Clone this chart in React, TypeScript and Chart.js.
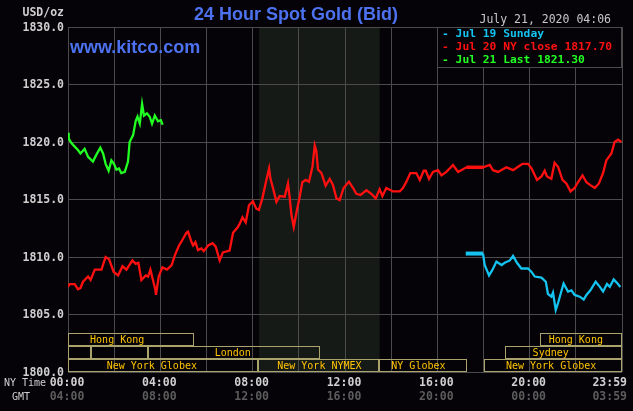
import React, { useEffect, useRef } from "react";
import { Chart, registerables } from "chart.js";

Chart.register(...registerables);

// ---------- data (x = NY time in hours, y = USD/oz) ----------
const greenHours = [0.0, 0.03, 0.15, 0.29, 0.43, 0.54, 0.72, 0.87, 1.08, 1.23, 1.4, 1.52, 1.63, 1.76, 1.88, 1.99, 2.1, 2.21, 2.31, 2.46, 2.6, 2.67, 2.82, 2.93, 3.01, 3.11, 3.21, 3.29, 3.42, 3.54, 3.64, 3.76, 3.9, 4.02, 4.1];
const greenPrices = [1820.8, 1820.3, 1819.9, 1819.6, 1819.3, 1819.0, 1819.4, 1818.7, 1818.3, 1818.9, 1819.5, 1819.0, 1818.1, 1817.5, 1818.4, 1818.1, 1817.6, 1817.7, 1817.3, 1817.4, 1818.3, 1820.0, 1820.6, 1821.8, 1822.2, 1821.6, 1823.3, 1822.3, 1822.5, 1822.2, 1821.6, 1822.3, 1821.8, 1821.9, 1821.5];

const redHours = [
  0.0, 0.07, 0.29, 0.43, 0.54, 0.65, 0.87, 0.98, 1.16, 1.45,
  1.63, 1.78, 1.98, 2.17, 2.36, 2.53, 2.79, 2.93, 3.05, 3.18,
  3.37, 3.47, 3.57, 3.68, 3.79, 3.81, 3.93, 4.09, 4.29, 4.49,
  4.62, 4.81, 4.96, 5.13, 5.2, 5.35, 5.42, 5.52, 5.63, 5.78,
  5.88, 6.07, 6.26, 6.4, 6.57, 6.71, 7.0, 7.15, 7.36, 7.44,
  7.56, 7.7, 7.84, 8.01, 8.16, 8.27, 8.42, 8.56, 8.71, 8.77,
  8.88, 9.03, 9.17, 9.39, 9.53, 9.6, 9.68, 9.78, 9.92, 10.04,
  10.15, 10.3, 10.44, 10.59, 10.69, 10.76, 10.83, 10.98, 11.16, 11.34,
  11.48, 11.63, 11.77, 11.94, 12.17, 12.35, 12.49, 12.67, 12.93, 13.14,
  13.33, 13.5, 13.62, 13.79, 14.08, 14.37, 14.51, 14.66, 14.83, 15.09,
  15.24, 15.41, 15.5, 15.64, 15.81, 16.03, 16.18, 16.39, 16.68, 16.9,
  17.26, 17.98, 18.27, 18.41, 18.63, 18.99, 19.28, 19.5, 19.69, 19.93,
  20.08, 20.32, 20.51, 20.65, 20.75, 20.94, 21.08, 21.23, 21.42, 21.59,
  21.77, 21.95, 22.09, 22.29, 22.46, 22.63, 22.82, 23.0, 23.18, 23.32,
  23.54, 23.68, 23.83, 23.98,
];
const redPrices = [
  1807.4, 1807.65, 1807.65, 1807.2, 1807.3, 1807.85, 1808.3, 1808.0, 1808.9, 1808.9,
  1810.0, 1809.8, 1808.7, 1808.4, 1809.2, 1808.9, 1809.7, 1809.4, 1809.5, 1808.0,
  1808.4, 1808.3, 1808.9, 1808.0, 1807.1, 1806.7, 1808.3, 1809.1, 1808.9, 1809.3,
  1810.1, 1811.0, 1811.5, 1812.1, 1812.2, 1811.3, 1811.0, 1811.3, 1810.6, 1810.75,
  1810.5, 1811.0, 1811.2, 1810.9, 1809.7, 1810.4, 1810.55, 1812.1, 1812.6, 1812.9,
  1813.45, 1813.0, 1814.5, 1814.85, 1814.2, 1814.1, 1815.1, 1816.4, 1817.7, 1816.8,
  1816.0, 1814.8, 1815.3, 1815.25, 1816.4, 1815.25, 1813.65, 1812.6, 1814.1, 1815.25,
  1816.5, 1816.7, 1816.55, 1817.85, 1819.7, 1819.2, 1817.6, 1817.3, 1816.2, 1816.8,
  1816.25, 1815.1, 1814.95, 1816.0, 1816.55, 1816.0, 1815.5, 1815.4, 1815.8, 1815.5,
  1815.1, 1815.9, 1815.3, 1816.0, 1815.7, 1815.7, 1816.0, 1816.55, 1817.3, 1817.3,
  1816.7, 1817.5, 1817.5, 1816.8, 1817.4, 1817.55, 1817.1, 1817.4, 1818.0, 1817.4,
  1817.8, 1817.8, 1818.0, 1817.55, 1817.4, 1817.8, 1817.55, 1817.85, 1818.1, 1818.1,
  1817.7, 1816.7, 1817.0, 1817.5, 1817.0, 1816.8, 1818.2, 1817.85, 1816.7, 1816.4,
  1815.7, 1816.0, 1816.5, 1817.1, 1816.5, 1816.25, 1816.0, 1816.4, 1817.3, 1818.4,
  1819.0, 1820.0, 1820.2, 1820.0,
];
const redFlatHours = [17.26, 17.98];
const redFlatPrices = [1817.8, 1817.8];

const cyanFlatHours = [17.23, 17.98];
const cyanFlatPrices = [1810.3, 1810.3];
const cyanHours = [17.98, 18.05, 18.24, 18.39, 18.56, 18.78, 18.92, 19.14, 19.28, 19.45, 19.64, 19.93, 20.08, 20.22, 20.51, 20.7, 20.79, 20.94, 21.01, 21.13, 21.23, 21.37, 21.47, 21.66, 21.81, 21.95, 22.17, 22.34, 22.46, 22.63, 22.86, 23.04, 23.18, 23.35, 23.47, 23.64, 23.78, 23.93];
const cyanPrices = [1810.3, 1809.3, 1808.4, 1808.9, 1809.6, 1809.3, 1809.5, 1809.7, 1810.1, 1809.5, 1809.0, 1809.0, 1808.7, 1808.3, 1808.2, 1807.85, 1806.8, 1806.55, 1806.9, 1805.4, 1806.0, 1807.0, 1807.7, 1807.0, 1807.1, 1806.7, 1806.55, 1806.3, 1806.7, 1807.1, 1807.85, 1807.4, 1807.0, 1807.65, 1807.4, 1808.05, 1807.75, 1807.4];

const yTickValues = [1830, 1825, 1820, 1815, 1810, 1805, 1800];
const xTickHours = [0, 4, 8, 12, 16, 20, 24];
const nyTimeLabels = ["00:00", "04:00", "08:00", "12:00", "16:00", "20:00", "23:59"];
const gmtLabels = ["04:00", "08:00", "12:00", "16:00", "20:00", "00:00", "03:59"];

const legendLabels = ["Jul 19 Sunday", "Jul 20 NY close 1817.70", "Jul 21 Last 1821.30"];
const legendColors = ["#14c3f0", "#ff1010", "#22ff22"];

const titleText = "24 Hour Spot Gold (Bid)";
const siteText = "www.kitco.com";
const dateText = "July 21, 2020 04:06";
const unitText = "USD/oz";

const nymexStart = 8.28;
const nymexEnd = 13.5;

// trading sessions (row 0 = top row)
const sessionRows = [0, 0, 1, 1, 1, 1, 2, 2, 2, 2];
const sessionStarts = [0, 20.43, 0, 0.98, 3.47, 18.92, 0, 8.25, 13.46, 18.0];
const sessionEnds = [5.47, 24, 0.98, 3.47, 10.92, 24, 8.25, 13.46, 17.3, 24];
const sessionLabels = ["Hong Kong", "Hong Kong", "", "", "London", "Sydney", "New York Globex", "New York NYMEX", "NY Globex", "New York Globex"];
const sessionLabelHours = [2.13, 22.0, 0, 0, 7.14, 20.91, 3.63, 10.89, 15.18, 20.93];

const pts = (hs: number[], ps: number[]) => hs.map((h, i) => ({ x: h, y: ps[i] }));

const MONO = '"DejaVu Sans Mono", monospace';

const decor = {
  id: "decor",
  beforeDraw(chart: any) {
    const { ctx, chartArea, scales } = chart;
    const { top, bottom } = chartArea;
    ctx.save();
    ctx.fillStyle = "#050307";
    ctx.fillRect(0, 0, chart.width, chart.height);
    const x0 = scales.x.getPixelForValue(nymexStart);
    const x1 = scales.x.getPixelForValue(nymexEnd);
    ctx.fillStyle = "#161a16";
    ctx.fillRect(x0, top, x1 - x0, bottom - top);
    ctx.restore();
  },
  afterDraw(chart: any) {
    const { ctx, chartArea, scales } = chart;
    const { right, top, bottom } = chartArea;
    const xs = scales.x;
    const ys = scales.y;
    ctx.save();

    // session boxes
    ctx.lineWidth = 1;
    ctx.strokeStyle = "#aaa46c";
    ctx.fillStyle = "#ffc400";
    ctx.font = `10px ${MONO}`;
    ctx.textAlign = "center";
    ctx.textBaseline = "middle";
    for (let i = 0; i < sessionRows.length; i++) {
      const rowTop = Math.round(bottom) - 39 + sessionRows[i] * 13;
      const a = Math.round(xs.getPixelForValue(sessionStarts[i]));
      const b = Math.round(xs.getPixelForValue(sessionEnds[i]));
      ctx.strokeRect(a + 0.5, rowTop + 0.5, b - a - 1, 12);
      if (sessionLabels[i]) {
        ctx.fillText(sessionLabels[i], xs.getPixelForValue(sessionLabelHours[i]), rowTop + 7);
      }
    }

    // legend box
    const lx = 437;
    ctx.fillStyle = "#050307";
    ctx.fillRect(lx, top, right - lx, 40);
    ctx.strokeStyle = "#4b4b4b";
    ctx.strokeRect(lx + 0.5, top + 0.5, right - lx - 1, 40);
    ctx.font = `bold 11.3px ${MONO}`;
    ctx.textAlign = "left";
    for (let i = 0; i < legendLabels.length; i++) {
      ctx.fillStyle = legendColors[i];
      ctx.fillText("- " + legendLabels[i], 442, top + 7 + i * 13);
    }

    // title, site, date
    ctx.fillStyle = "#4d72f0";
    ctx.font = 'bold 18px "Liberation Sans", Arial, sans-serif';
    ctx.textAlign = "center";
    ctx.fillText(titleText, 296, 15);
    ctx.textAlign = "left";
    ctx.fillText(siteText, 70, 48);

    ctx.fillStyle = "#c8c8c8";
    ctx.font = `11.5px ${MONO}`;
    ctx.textAlign = "right";
    ctx.fillText(dateText, 611, 20);

    // y labels
    ctx.font = `bold 11.5px ${MONO}`;
    ctx.fillStyle = "#cfcfcf";
    ctx.textAlign = "right";
    ctx.fillText(unitText, 64, 13);
    for (const v of yTickValues) {
      ctx.fillText(v.toFixed(1), 64, ys.getPixelForValue(v) + 1);
    }

    // x labels
    for (let i = 0; i < xTickHours.length; i++) {
      const px = xs.getPixelForValue(xTickHours[i]);
      const last = i === xTickHours.length - 1;
      ctx.textAlign = last ? "right" : "center";
      const tx = last ? px + 5 : px - 1;
      ctx.font = `bold 11.5px ${MONO}`;
      ctx.fillStyle = "#d0d0d0";
      ctx.fillText(nyTimeLabels[i], tx, 383);
      ctx.fillStyle = "#5c5c5c";
      ctx.fillText(gmtLabels[i], tx, 397);
    }
    ctx.font = `10px ${MONO}`;
    ctx.fillStyle = "#cfcfcf";
    ctx.textAlign = "left";
    ctx.fillText("NY Time", 4, 383);
    ctx.fillText("GMT", 12, 397);

    ctx.restore();
  },
};

export default function App() {
  const ref = useRef<HTMLCanvasElement | null>(null);
  useEffect(() => {
    if (!ref.current) return;
    const line = (data: any, color: string, width: number) => ({
      data,
      borderColor: color,
      borderWidth: width,
      pointRadius: 0,
      tension: 0,
      fill: false,
    });
    const chart = new Chart(ref.current, {
      type: "line",
      data: {
        datasets: [
          line(pts(cyanFlatHours, cyanFlatPrices), legendColors[0], 4),
          line(pts(cyanHours, cyanPrices), legendColors[0], 2.3),
          line(pts(redFlatHours, redFlatPrices), legendColors[1], 3.5),
          line(pts(redHours, redPrices), legendColors[1], 2.3),
          line(pts(greenHours, greenPrices), legendColors[2], 2.3),
        ],
      },
      options: {
        responsive: false,
        animation: false,
        events: [],
        layout: { padding: { left: 68, right: 11, top: 27, bottom: 39 } },
        plugins: { legend: { display: false }, tooltip: { enabled: false } },
        scales: {
          x: {
            type: "linear",
            min: 0,
            max: 24,
            ticks: { display: false, stepSize: 2 },
            grid: { color: "#4b4b4b", drawTicks: false, lineWidth: 1 },
            border: { display: false },
            afterFit: (s: any) => { s.height = 0; },
          },
          y: {
            type: "linear",
            min: 1800,
            max: 1830,
            ticks: { display: false, stepSize: 5 },
            grid: { color: "#4b4b4b", drawTicks: false, lineWidth: 1 },
            border: { display: false },
            afterFit: (s: any) => { s.width = 0; },
          },
        },
      },
      plugins: [decor],
    } as any);
    return () => chart.destroy();
  }, []);
  return (
    <div style={{ position: "absolute", left: 0, top: 0, width: 633, height: 411 }}>
      <canvas ref={ref} width={633} height={411} style={{ display: "block" }} />
    </div>
  );
}
